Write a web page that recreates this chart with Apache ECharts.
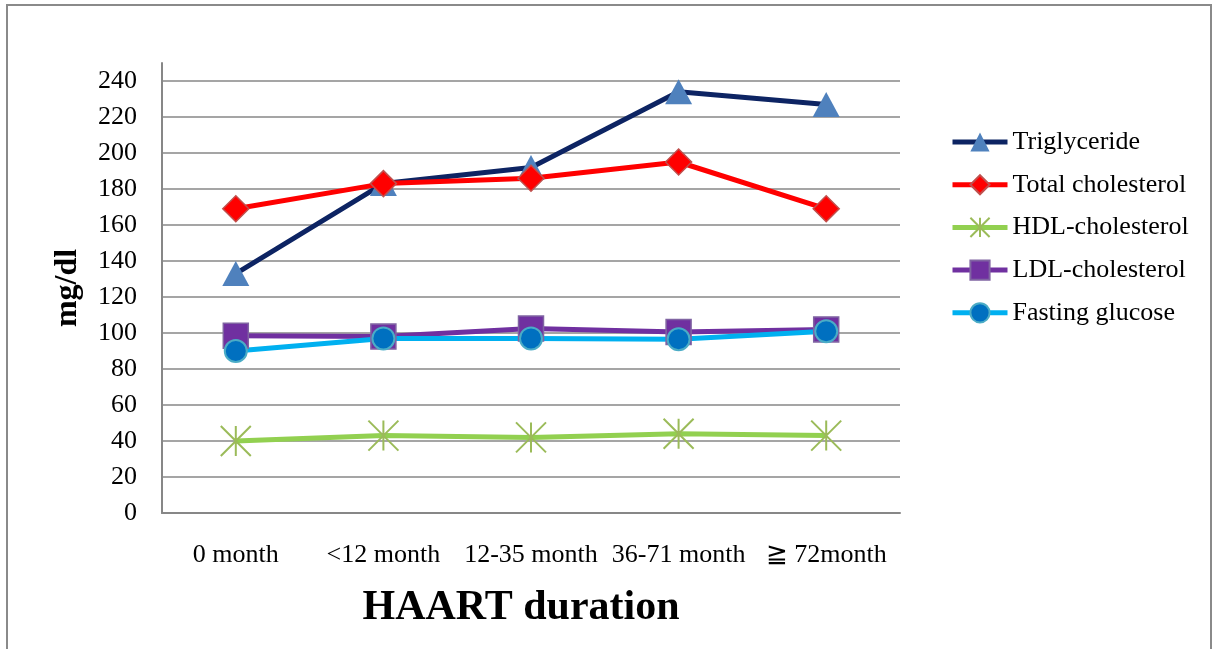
<!DOCTYPE html>
<html>
<head>
<meta charset="utf-8">
<title>Metabolic profile by HAART duration</title>
<script src="https://cdn.jsdelivr.net/npm/echarts@6/dist/echarts.min.js"></script>
<style>
  html, body { margin: 0; padding: 0; background: #ffffff; }
  #chart { width: 1213px; height: 649px; }
</style>
</head>
<body>
<div id="chart"></div>
<script>
// Categories along the x axis
const durations = ['0 month', '<12 month', '12-35 month', '36-71 month', '\u2267 72month'];

// Mean values (mg/dl) per duration group
const triglyceride = [133, 183, 192, 234, 227];
const totalCholesterol = [169, 183, 186, 195, 169];
const hdlCholesterol = [40, 43, 42, 44, 43];
const ldlCholesterol = [98.5, 98, 102.5, 100.5, 102];
const fastingGlucose = [90, 97, 97, 96.5, 101];

// Y axis ticks
const yMin = 0;
const yMax = 250;
const yStep = 20;

const serif = '"Liberation Serif", "Times New Roman", serif';
const gridGray = '#878787';

// Six-spoke star marker
const starPath = 'path://M15,0 L15,30 M0,0 L30,30 M0,30 L30,0';

const chart = echarts.init(document.getElementById('chart'), null, { renderer: 'canvas' });

chart.setOption({
  backgroundColor: '#ffffff',
  animation: false,
  graphic: [
    {
      type: 'rect',
      shape: { x: 7, y: 5, width: 1204, height: 700 },
      style: { fill: 'none', stroke: '#8a8a8a', lineWidth: 2 },
      silent: true,
      z: 0
    },
    {
      type: 'text',
      x: 521,
      y: 608,
      style: {
        text: 'HAART duration',
        font: 'bold 42px ' + serif,
        fill: '#000000',
        textAlign: 'center',
        textVerticalAlign: 'middle'
      }
    }
  ],
  grid: {
    left: 162,
    right: 313,
    top: 63,
    bottom: 136,
    containLabel: false
  },
  legend: {
    orient: 'vertical',
    left: 945,
    top: 124,
    itemWidth: 55,
    itemHeight: 24,
    itemGap: 16.7,
    lineStyle: { width: 5 },
    textStyle: { fontFamily: serif, fontSize: 26, color: '#000000', lineHeight: 24 },
    data: ['Triglyceride', 'Total cholesterol', 'HDL-cholesterol', 'LDL-cholesterol', 'Fasting glucose']
  },
  xAxis: {
    type: 'category',
    data: durations,
    boundaryGap: true,
    axisLine: { show: true, lineStyle: { color: gridGray, width: 2 } },
    axisTick: { show: false },
    axisLabel: {
      interval: 0,
      margin: 29,
      fontFamily: serif,
      fontSize: 26,
      color: '#000000'
    },
    splitLine: { show: false }
  },
  yAxis: {
    type: 'value',
    min: yMin,
    max: yMax,
    interval: yStep,
    name: 'mg/dl',
    nameLocation: 'middle',
    nameGap: 78,
    nameRotate: 90,
    nameTextStyle: { fontFamily: serif, fontSize: 32, fontWeight: 'bold', color: '#000000' },
    axisLine: { show: true, lineStyle: { color: gridGray, width: 2 } },
    axisTick: { show: false },
    axisLabel: {
      margin: 25,
      fontFamily: serif,
      fontSize: 26,
      color: '#000000',
      formatter: function (v) { return v % yStep === 0 ? String(v) : ''; }
    },
    splitLine: {
      show: true,
      showMaxLine: false,
      lineStyle: { color: gridGray, width: 1.5 }
    }
  },
  series: [
    {
      name: 'Triglyceride',
      type: 'line',
      data: triglyceride,
      symbol: 'triangle',
      symbolSize: [27, 25],
      lineStyle: { color: '#0d2463', width: 5 },
      itemStyle: { color: '#4f81bd', borderWidth: 0 }
    },
    {
      name: 'Total cholesterol',
      type: 'line',
      data: totalCholesterol,
      symbol: 'diamond',
      symbolSize: [26, 26],
      lineStyle: { color: '#ff0000', width: 5 },
      itemStyle: { color: '#ff0000', borderColor: '#c0504d', borderWidth: 1.5 }
    },
    {
      name: 'HDL-cholesterol',
      type: 'line',
      data: hdlCholesterol,
      symbol: starPath,
      symbolSize: [30, 30],
      lineStyle: { color: '#92d050', width: 5 },
      itemStyle: { color: '#9bbb59', borderColor: '#9bbb59', borderWidth: 2 }
    },
    {
      name: 'LDL-cholesterol',
      type: 'line',
      data: ldlCholesterol,
      symbol: 'rect',
      symbolSize: [25, 25],
      lineStyle: { color: '#7030a0', width: 5 },
      itemStyle: { color: '#7030a0', borderColor: '#8064a2', borderWidth: 1.5 }
    },
    {
      name: 'Fasting glucose',
      type: 'line',
      data: fastingGlucose,
      symbol: 'circle',
      symbolSize: 22,
      lineStyle: { color: '#00b0f0', width: 5 },
      itemStyle: { color: '#0070c0', borderColor: '#4bacc6', borderWidth: 2 }
    }
  ]
});
</script>
</body>
</html>
